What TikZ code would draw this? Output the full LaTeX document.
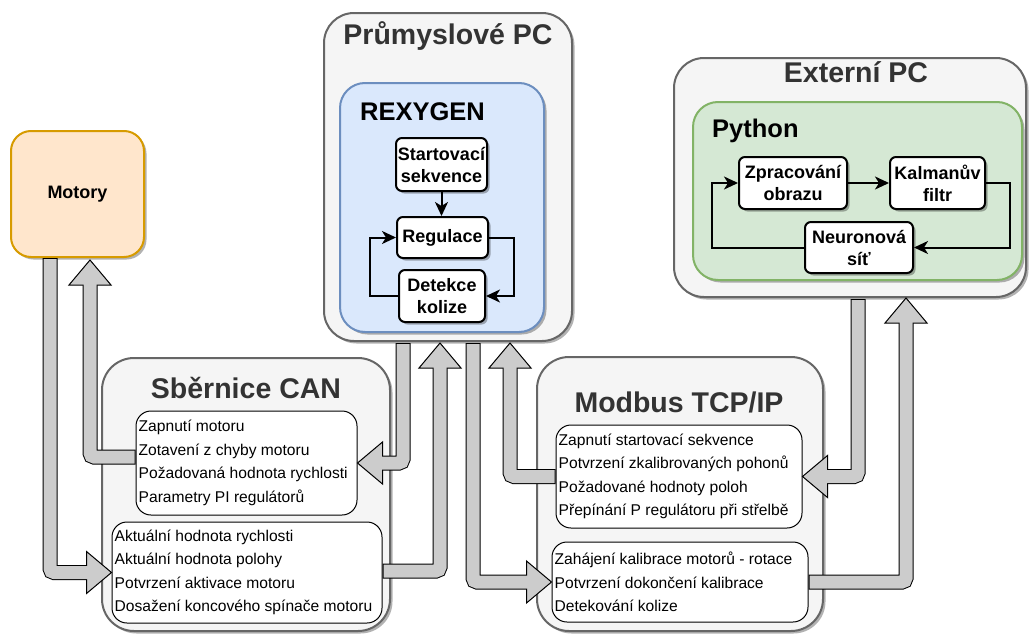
\documentclass[tikz,border=0pt]{standalone}
\usepackage{fontspec}
\setmainfont{Liberation Sans}
\usetikzlibrary{calc,shadows,arrows.meta}

\definecolor{outerfill}{HTML}{F5F5F5}
\definecolor{outerline}{HTML}{666666}
\definecolor{titlecol}{HTML}{333333}
\definecolor{motfill}{HTML}{FFE6CC}
\definecolor{motline}{HTML}{D79B00}
\definecolor{rexfill}{HTML}{DAE8FC}
\definecolor{rexline}{HTML}{6C8EBF}
\definecolor{pyfill}{HTML}{D5E8D4}
\definecolor{pyline}{HTML}{82B366}
\definecolor{arrowfill}{HTML}{CCCCCC}

\tikzset{
  boxshadow/.style={drop shadow={shadow xshift=2.5pt,shadow yshift=-2.5pt,opacity=0.3,fill=black}},
  container/.style={draw=outerline, fill=outerfill, line width=2pt, rounded corners=#1, boxshadow, inner sep=0pt},
  group/.style={line width=2pt, rounded corners=25pt, boxshadow, inner sep=0pt},
  title/.style={font=\fontsize{28.5}{32}\selectfont\bfseries, text=titlecol, inner sep=0pt},
  subtitle/.style={font=\fontsize{25.5}{28}\selectfont\bfseries, inner sep=0pt},
  stepbox/.style={draw, fill=white, line width=2pt, rounded corners=6pt, boxshadow,
    font=\fontsize{18}{22}\selectfont\bfseries, align=center, inner sep=0pt},
  listbox/.style={draw, fill=white, line width=1pt, rounded corners=15pt, inner sep=0pt},
  listtext/.style={anchor=west, align=left, inner xsep=3pt, inner ysep=0pt,
    font=\fontsize{15.6}{23.5}\selectfont},
  loopedge/.style={line width=2pt, -{Stealth[length=14pt,width=13pt,inset=4pt]}},
  fatrim/.style={line width=15pt, black, rounded corners=4pt},
  fatcore/.style={line width=13pt, arrowfill, rounded corners=4pt, shorten <=1pt},
  fathead/.style={fill=arrowfill, draw=black, line width=1pt, line join=miter},
}

% broad block arrow: tail, one bend, tip
\newcommand{\fatarrow}[3]{%
  \coordinate (fa-base) at ($(#3)!25pt!(#2)$);
  \draw[fatrim] (#1) -- (#2) -- (fa-base);
  \filldraw[fathead] ($(fa-base)!21pt!90:(#3)$) -- (#3) -- ($(fa-base)!21pt!-90:(#3)$) -- cycle;
  \draw[fatcore] (#1) -- (#2) -- ($(fa-base)!2pt!(#3)$);
}

\begin{document}
\begin{tikzpicture}[x=1pt, y=-1pt]
\path[use as bounding box, fill=white] (0,0) rectangle (1030,637);

% ---------- Motors ----------
\node[draw=motline, fill=motfill, line width=2pt, rounded corners=20pt, boxshadow,
      minimum width=133pt, minimum height=126pt, inner sep=0pt,
      font=\fontsize{18}{22}\selectfont\bfseries] (motory) at (77.5,194) {Motory};

% ---------- Industrial PC ----------
\node[container=30pt, minimum width=248pt, minimum height=328pt] (pc) at (448,177) {};
\node[title, anchor=base] (pcT) at (448,44) {Průmyslové PC};
\node[group, draw=rexline, fill=rexfill, minimum width=204pt, minimum height=249pt] (rex) at (442,207.5) {};
\node[subtitle, anchor=base west] (rexT) at (360,120) {REXYGEN};
\node[stepbox, minimum width=91pt, minimum height=53pt] (start) at (441.5,164.5) {Startovací\\sekvence};
\node[stepbox, minimum width=91pt, minimum height=41pt] (reg) at (442.5,237.5) {Regulace};
\node[stepbox, minimum width=86pt, minimum height=52pt] (det) at (442,296) {Detekce\\kolize};
\draw[loopedge] (start.south) -- (start.south |- reg.north);
\draw[loopedge] (reg.east) -- ++(25,0) |- (det.east);
\draw[loopedge] (det.west) -- ++(-28,0) |- (reg.west);

% ---------- External PC ----------
\node[container=30pt, minimum width=352pt, minimum height=239pt] (ext) at (850,177.5) {};
\node[title, anchor=base] (extT) at (856,82) {Externí PC};
\node[group, draw=pyline, fill=pyfill, minimum width=329pt, minimum height=178pt] (py) at (857.5,191) {};
\node[subtitle, anchor=base west] (pyT) at (712,137) {Python};
\node[stepbox, minimum width=108pt, minimum height=52pt] (zpr) at (793,183) {Zpracování\\obrazu};
\node[stepbox, minimum width=95pt, minimum height=52pt] (kal) at (937.5,183) {Kalmanův\\filtr};
\node[stepbox, minimum width=108pt, minimum height=51pt] (neu) at (859,247.5) {Neuronová\\síť};
\draw[loopedge] (zpr) -- (kal);
\draw[loopedge] (kal.east) -- ++(24,0) |- (neu.east);
\draw[loopedge] (neu.west) -- ++(-92,0) |- (zpr.west);

% ---------- CAN bus ----------
\node[container=32pt, minimum width=288pt, minimum height=273pt] (can) at (246,494.5) {};
\node[title, anchor=base] (canT) at (246,398) {Sběrnice CAN};
\node[listbox, minimum width=221pt, minimum height=104pt,
  label={[listtext]west:{Zapnutí motoru\\Zotavení z chyby motoru\\Požadovaná hodnota rychlosti\\Parametry PI regulátorů}}]
  (canUp) at (246.5,463) {};
\node[listbox, minimum width=270pt, minimum height=101pt,
  label={[listtext]west:{Aktuální hodnota rychlosti\\Aktuální hodnota polohy\\Potvrzení aktivace motoru\\Dosažení koncového spínače motoru}}]
  (canLow) at (247,572.5) {};

% ---------- Modbus TCP/IP ----------
\node[container=32pt, minimum width=286pt, minimum height=274pt] (mod) at (680,494) {};
\node[title, anchor=base] (modT) at (679,412) {Modbus TCP/IP};
\node[listbox, minimum width=246pt, minimum height=103pt,
  label={[listtext]west:{Zapnutí startovací sekvence\\Potvrzení zkalibrovaných pohonů\\Požadované hodnoty poloh\\Přepínání P regulátoru při střelbě}}]
  (modUp) at (679,476.5) {};
\node[listbox, minimum width=256pt, minimum height=80pt,
  label={[listtext]west:{Zahájení kalibrace motorů - rotace\\Potvrzení dokončení kalibrace\\Detekování kolize}}]
  (modLow) at (680,582) {};

% ---------- data flows ----------
\coordinate (a1t) at (50,0 |- motory.south);
\coordinate (a1b) at (50,0 |- canLow.west);
\fatarrow{a1t}{a1b}{canLow.west}

\coordinate (a2t) at (canUp.west |- 0,457);
\coordinate (a2b) at (90,457);
\coordinate (a2h) at (90,260);
\fatarrow{a2t}{a2b}{a2h}

\coordinate (a3t) at (403,343);
\coordinate (a3b) at (403,0 |- canUp.east);
\fatarrow{a3t}{a3b}{canUp.east}

\coordinate (a4t) at (canLow.east |- 0,571);
\coordinate (a4b) at (440,571);
\coordinate (a4h) at (440,343);
\fatarrow{a4t}{a4b}{a4h}

\coordinate (a5t) at (473,343);
\coordinate (a5b) at (473,0 |- modLow.west);
\fatarrow{a5t}{a5b}{modLow.west}

\coordinate (a6b) at (510,0 |- modUp.west);
\coordinate (a6h) at (510,343);
\fatarrow{modUp.west}{a6b}{a6h}

\coordinate (a7t) at (858,299);
\coordinate (a7b) at (858,0 |- modUp.east);
\fatarrow{a7t}{a7b}{modUp.east}

\coordinate (a8b) at (906,0 |- modLow.east);
\coordinate (a8h) at (906,298);
\fatarrow{modLow.east}{a8b}{a8h}
\end{tikzpicture}
\end{document}
